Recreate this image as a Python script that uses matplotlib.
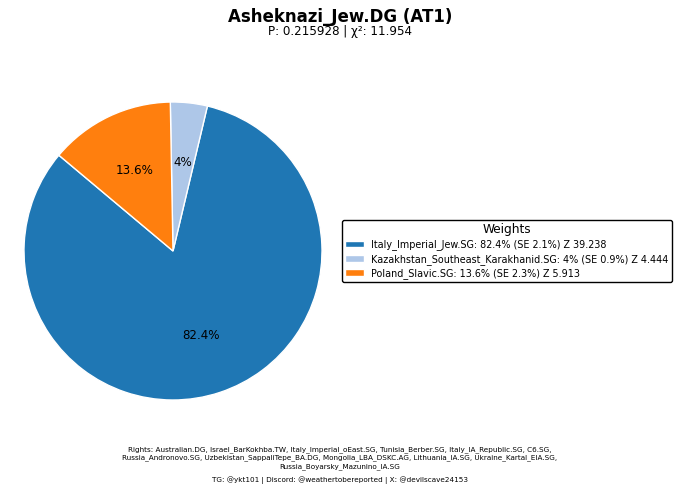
import matplotlib
matplotlib.use("Agg")
import matplotlib.pyplot as plt
import numpy as np

sources = ["Italy_Imperial_Jew.SG", "Kazakhstan_Southeast_Karakhanid.SG", "Poland_Slavic.SG"]
weights = [82.4, 4.0, 13.6]
se = [2.1, 0.9, 2.3]
zvals = [39.238, 4.444, 5.913]
colors = ["#1f77b4", "#aec7e8", "#ff7f0e"]
title = "Asheknazi_Jew.DG (AT1)"
subtitle = "P: 0.215928 | χ²: 11.954"
rights = ("Rights: Australian.DG, Israel_BarKokhba.TW, Italy_Imperial_oEast.SG, Tunisia_Berber.SG, Italy_IA_Republic.SG, C6.SG,\n"
          "Russia_Andronovo.SG, Uzbekistan_SappaliTepe_BA.DG, Mongolia_LBA_DSKC.AG, Lithuania_IA.SG, Ukraine_Kartal_EIA.SG,\n"
          "Russia_Boyarsky_Mazunino_IA.SG")
credit = "TG: @ykt101 | Discord: @weathertobereported | X: @devilscave24153"

fig = plt.figure(figsize=(6.8, 4.93), dpi=100)
ax = fig.add_axes([24/680, (493-400)/493, 298/680, 298/493])

labels_pct = [f"{w:g}%" for w in weights]
wedges, texts = ax.pie(weights, colors=colors, startangle=140,
                       wedgeprops=dict(edgecolor="white", linewidth=1))
ang0 = 140
tot = sum(weights)
for w, lab in zip(weights, labels_pct):
    mid = np.deg2rad(ang0 + 360 * w / tot / 2)
    ax.text(0.6 * np.cos(mid), 0.6 * np.sin(mid), lab, ha="center", va="center", fontsize=8.6)
    ang0 += 360 * w / tot
ax.set_xlim(-1, 1)
ax.set_ylim(-1, 1)
ax.set_aspect("equal")

leg_labels = [f"{s}: {w:g}% (SE {e}%) Z {z}" for s, w, e, z in zip(sources, weights, se, zvals)]
leg = ax.legend(wedges, leg_labels, title="Weights", loc="center left",
                bbox_to_anchor=(1.05, 0.5), fontsize=6.9, title_fontsize=8.7,
                frameon=True, fancybox=True, labelspacing=0.35, borderpad=0.3)
leg.get_frame().set_edgecolor("black")
leg.get_frame().set_alpha(1)

fig.text(0.5, 1 - 17/493, title, ha="center", va="center", fontsize=12, fontweight="bold")
fig.text(0.5, 1 - 31/493, subtitle, ha="center", va="center", fontsize=8.6)
fig.text(0.5, 1 - 458/493, rights, ha="center", va="center", fontsize=5.2, linespacing=1.3)
fig.text(0.5, 1 - 480/493, credit, ha="center", va="center", fontsize=5.2)

fig.savefig("out.png", dpi=100)
